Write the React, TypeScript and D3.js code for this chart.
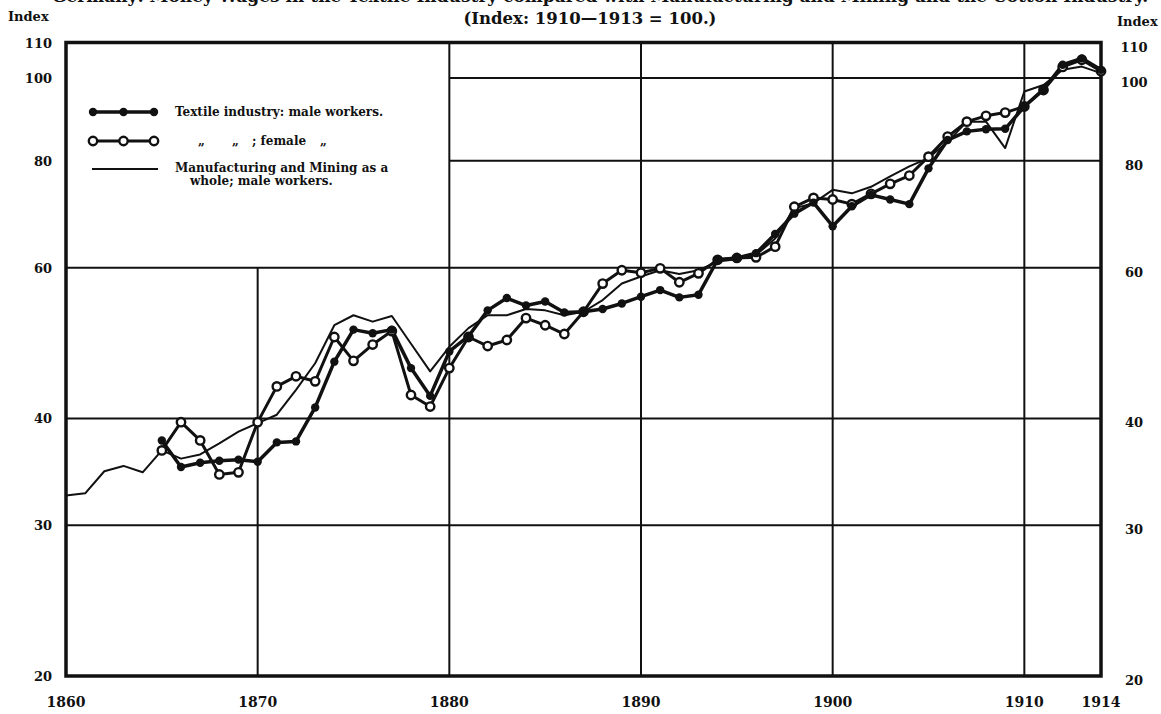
import React from "react";
import * as d3 from "d3";

const firstYear = 1860;
const textileStart = 1865;

const manufacturing = [
  32.5, 32.7, 34.7, 35.2, 34.6, 36.7, 35.9, 36.3, 37.4, 38.6,
  39.5, 40.4, 43.2, 46.4, 51.4, 52.8, 51.9, 52.7, 48.9, 45.4,
  48.5, 51.0, 52.8, 52.8, 53.7, 53.5, 52.8, 53.3, 55.0, 57.5,
  58.6, 59.6, 59.0, 59.6, 61.0, 61.4, 62.1, 64.9, 70.4, 71.4,
  74.0, 73.3, 74.6, 76.7, 78.8, 80.6, 84.2, 88.9, 88.9, 82.8,
  96.4, 98.1, 102.2, 103.1, 101.3,
];

const textileMale = [
  37.7, 35.1, 35.5, 35.7, 35.8,
  35.6, 37.5, 37.6, 41.2, 46.6, 50.8, 50.3, 50.8, 45.8, 42.5,
  47.9, 49.9, 53.5, 55.3, 54.2, 54.8, 53.2, 53.3, 53.7, 54.5,
  55.5, 56.5, 55.4, 55.8, 61.3, 61.6, 62.4, 65.7, 69.4, 71.5,
  67.1, 70.8, 73.0, 72.1, 71.2, 78.4, 84.6, 86.6, 87.1, 87.2,
  92.6, 97.0, 103.6, 105.4, 102.2,
];

const textileFemale = [
  36.7, 39.6, 37.7, 34.4, 34.6,
  39.6, 43.6, 44.8, 44.2, 49.8, 46.7, 48.8, 50.6, 42.6, 41.3,
  45.8, 49.8, 48.6, 49.4, 52.4, 51.4, 50.2, 53.3, 57.5, 59.6,
  59.2, 59.9, 57.7, 59.1, 61.3, 61.6, 61.7, 63.5, 70.7, 72.4,
  72.1, 71.2, 73.2, 75.2, 76.9, 80.9, 85.4, 88.9, 90.3, 91.1,
  92.6, 96.8, 103.0, 105.0, 101.8,
];

const yTicks = [20, 30, 40, 60, 80, 100, 110];
const xTicks = [1860, 1870, 1880, 1890, 1900, 1910, 1914];
const hGridFull = [30, 40, 60];
const hGridPartial = [80, 100];
const vGridFull = [1880, 1890, 1900, 1910];
const vGridLow = [1870];

const subtitle = "(Index: 1910\u20141913 = 100.)";
const clippedTitle = "Germany: Money Wages in the Textile Industry compared with Manufacturing and Mining and the Cotton Industry.";
const legendLabels = [
  "Textile industry: male workers.",
  "; female",
  "Manufacturing and Mining as a",
  "whole; male workers.",
];

const W = 1161;
const H = 714;
const FONT = "'DejaVu Serif', 'Liberation Serif', serif";

export default function App() {
  const x = d3.scaleLinear().domain([1860, 1914]).range([66, 1101]);
  const y = d3.scaleLog().domain([20, 110]).range([676, 42.5]);

  const manuPts = manufacturing.map((v, i) => [firstYear + i, v] as [number, number]);
  const malePts = textileMale.map((v, i) => [textileStart + i, v] as [number, number]);
  const femPts = textileFemale.map((v, i) => [textileStart + i, v] as [number, number]);

  const line = d3
    .line<[number, number]>()
    .x((d) => x(d[0]))
    .y((d) => y(d[1]));

  const x0 = x(1860);
  const x1 = x(1914);
  const yTop = y(110);
  const yBot = y(20);

  const lx = d3.scaleLinear().domain([0, 2]).range([93, 154]);
  const legendRows = [112, 141, 169];

  return (
    <svg
      width={W}
      height={H}
      viewBox={`0 0 ${W} ${H}`}
      style={{ position: "absolute", left: 0, top: 0, background: "#fff" }}
      fontFamily={FONT}
    >
      <rect x={0} y={0} width={W} height={H} fill="#fff" />
      {/* main title, cut off at the top edge as in the scan */}
      <text x={600} y={2} textAnchor="middle" fontSize={17} fontWeight="bold" fill="#111">
        {clippedTitle}
      </text>
      <text x={590} y={24} textAnchor="middle" fontSize={16.5} fontWeight="bold" fill="#111">
        {subtitle}
      </text>
      <text x={8} y={21} fontSize={13} fontWeight="bold" fill="#111">Index</text>
      <text x={1117} y={26} fontSize={13} fontWeight="bold" fill="#111">Index</text>

      {/* grid */}
      <g stroke="#111" strokeWidth={2} fill="none">
        {hGridFull.map((v) => (
          <line key={"h" + v} x1={x0} x2={x1} y1={y(v)} y2={y(v)} />
        ))}
        {hGridPartial.map((v) => (
          <line key={"hp" + v} x1={x(1880)} x2={x1} y1={y(v)} y2={y(v)} />
        ))}
        {vGridFull.map((v) => (
          <line key={"v" + v} x1={x(v)} x2={x(v)} y1={yTop} y2={yBot} />
        ))}
        {vGridLow.map((v) => (
          <line key={"vl" + v} x1={x(v)} x2={x(v)} y1={y(60)} y2={yBot} />
        ))}
      </g>
      {/* frame */}
      <rect x={x0} y={yTop} width={x1 - x0} height={yBot - yTop} fill="none" stroke="#111" strokeWidth={3.5} />

      {/* axis labels */}
      <g fontSize={13} fontWeight="bold" fill="#111">
        {yTicks.map((v) => (
          <text key={"yl" + v} x={52} y={y(v) + 5} textAnchor="end">{v}</text>
        ))}
        {yTicks.map((v) => (
          <text key={"yr" + v} x={1134} y={y(v) + 9} textAnchor="middle">{v}</text>
        ))}
      </g>
      <g fontSize={14} fontWeight="bold" fill="#111">
        {xTicks.map((v) => (
          <text key={"xl" + v} x={x(v)} y={707} textAnchor="middle">{v}</text>
        ))}
      </g>

      {/* series */}
      <path d={line(manuPts) || ""} fill="none" stroke="#111" strokeWidth={2} strokeLinejoin="round" />
      <path d={line(femPts) || ""} fill="none" stroke="#111" strokeWidth={3} strokeLinejoin="round" />
      <path d={line(malePts) || ""} fill="none" stroke="#111" strokeWidth={3.5} strokeLinejoin="round" />
      {femPts.map((d) => (
        <circle key={"f" + d[0]} cx={x(d[0])} cy={y(d[1])} r={4.2} fill="#fff" stroke="#111" strokeWidth={2.4} />
      ))}
      {malePts.map((d) => (
        <circle key={"m" + d[0]} cx={x(d[0])} cy={y(d[1])} r={4.2} fill="#111" />
      ))}

      {/* legend */}
      <g>
        <line x1={lx(0)} x2={lx(2)} y1={legendRows[0]} y2={legendRows[0]} stroke="#111" strokeWidth={3.5} />
        {[0, 1, 2].map((i) => (
          <circle key={"lm" + i} cx={lx(i)} cy={legendRows[0]} r={4.2} fill="#111" />
        ))}
        <line x1={lx(0)} x2={lx(2)} y1={legendRows[1]} y2={legendRows[1]} stroke="#111" strokeWidth={3} />
        {[0, 1, 2].map((i) => (
          <circle key={"lf" + i} cx={lx(i)} cy={legendRows[1]} r={4.2} fill="#fff" stroke="#111" strokeWidth={2.4} />
        ))}
        <line x1={92} x2={158} y1={legendRows[2]} y2={legendRows[2]} stroke="#111" strokeWidth={2} />
        <g fontSize={12} fontWeight="bold" fill="#111">
          <text x={175} y={legendRows[0] + 4}>{legendLabels[0]}</text>
          <text x={198} y={legendRows[1] + 4}>{"\u201E"}</text>
          <text x={232} y={legendRows[1] + 4}>{"\u201E"}</text>
          <text x={252} y={legendRows[1] + 4}>{legendLabels[1]}</text>
          <text x={320} y={legendRows[1] + 4}>{"\u201E"}</text>
          <text x={175} y={legendRows[2] + 3}>{legendLabels[2]}</text>
          <text x={190} y={legendRows[2] + 16}>{legendLabels[3]}</text>
        </g>
      </g>
    </svg>
  );
}
